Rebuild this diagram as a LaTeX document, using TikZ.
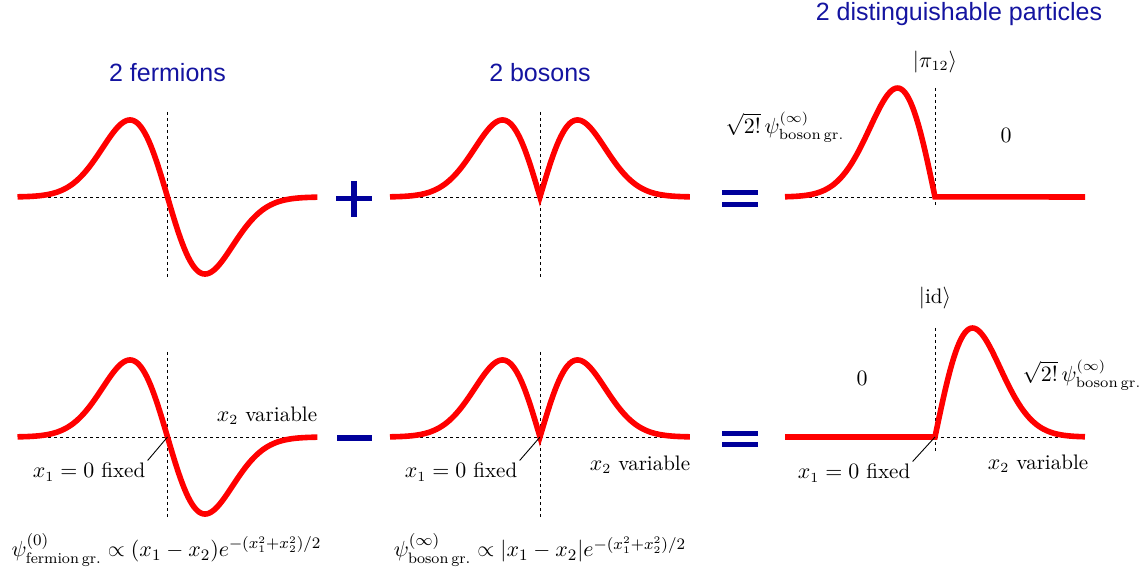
\documentclass[tikz,border=0pt]{standalone}
\usepackage{amsmath}
\usepackage{fontspec}
\newfontfamily\titlefont{Liberation Sans}
\usepackage{tikz}
\usetikzlibrary{positioning}
\definecolor{titleBlue}{HTML}{1414A0}
\definecolor{opBlue}{HTML}{00009B}
\tikzset{
  wave/.style={red, line width=2.8pt},
  axis/.style={line width=0.45pt, dash pattern=on 1.5pt off 1.5pt},
  lead/.style={line width=0.45pt},
  ttl/.style={font=\titlefont\fontsize{12.5}{15}\selectfont, text=titleBlue},
  lbl/.style={font=\fontsize{10.5}{12.6}\selectfont, inner sep=1pt},
  gs/.style={font=\fontsize{10.8}{13}\selectfont, inner sep=1pt},
  opsym/.style={opBlue, line width=2.6pt},
}

\begin{document}
\begin{tikzpicture}[x=0.5pt, y=-0.5pt]
% pixel grid of the reference, y pointing down
\useasboundingbox (0,0) rectangle (1146,581);
\def\amp{127}
\def\ux{37.5}

% origins x1 = 0 of the six panels
\coordinate (fermTop) at (167.5,197);
\coordinate (bosTop) at (540,197);
\coordinate (distTop) at (935,197);
\coordinate (fermBot) at (167.5,437);
\coordinate (bosBot) at (540,437);
\coordinate (distBot) at (935,437);

% titles
\node[ttl] (tFerm) at (167.5,73) {2 fermions};
\node[ttl] (tBos) at (540,73) {2 bosons};
\node[ttl, anchor=base] (tDist) at (959,21) {2 distinguishable particles};

% fermion and boson panels, both rows
\foreach \dy in {0,240} {
  \draw[axis] (18,197+\dy) -- (318,197+\dy);
  \draw[axis] (167.5,112+\dy) -- (167.5,278+\dy);
  \draw[axis] (390,197+\dy) -- (690,197+\dy);
  \draw[axis] (540,112+\dy) -- (540,278+\dy);
  \draw[wave] plot[domain=-4:4, samples=161]
    ({167.5+\ux*(\x)}, {197+\dy+\amp*(\x)*exp(-0.5*(\x)*(\x))});
  \draw[wave] plot[domain=-4:4, samples=161]
    ({540+\ux*(\x)}, {197+\dy-\amp*abs(\x)*exp(-0.5*(\x)*(\x))});
}

% distinguishable: |pi12>
\draw[axis] (785,197) -- (1085,197);
\draw[axis] (935,88) -- (935,208);
\draw[wave] plot[domain=-4:0, samples=81]
  ({935+\ux*(\x)}, {197-1.4142*\amp*abs(\x)*exp(-0.5*(\x)*(\x))}) -- (1085,197);

% distinguishable: |id>
\draw[axis] (785,437) -- (1085,437);
\draw[axis] (935,328) -- (935,452);
\draw[wave] (785,437) -- plot[domain=0:4, samples=81]
  ({935+\ux*(\x)}, {437-1.4142*\amp*abs(\x)*exp(-0.5*(\x)*(\x))});

% + - = =
\draw[opsym] (336,198.5) -- (372,198.5) (354,181) -- (354,217);
\draw[opsym] (337,438) -- (372,438);
\draw[opsym] (722,192.3) -- (758,192.3) (722,204.3) -- (758,204.3);
\draw[opsym] (722,433.3) -- (758,433.3) (722,444.3) -- (758,444.3);

% labels right column
\node[lbl] (kPi) at (935,62) {$|\pi_{12}\rangle$};
\node[lbl] (kId) at (935,298) {$|\mathrm{id}\rangle$};
\node[lbl] (bgTop) at (785,127) {$\sqrt{2!}\,\psi^{(\infty)}_{\mathrm{boson\,gr.}}$};
\node[lbl] (bgBot) at (1082,375) {$\sqrt{2!}\,\psi^{(\infty)}_{\mathrm{boson\,gr.}}$};
\node[lbl] (zTop) at (1006,135) {$0$};
\node[lbl] (zBot) at (862,378) {$0$};

% x1 / x2 labels
\node[lbl] (varF) at (267,416) {$x_2$ variable};
\node[lbl] (varB) at (640,465) {$x_2$ variable};
\node[lbl] (varD) at (1038,464) {$x_2$ variable};
\node[lbl] (fixF) at (89,472) {$x_1=0$ fixed};
\node[lbl] (fixB) at (461,472) {$x_1=0$ fixed};
\node[lbl] (fixD) at (854,473) {$x_1=0$ fixed};
\draw[lead] (fixF.north east) -- (fermBot);
\draw[lead] (fixB.north east) -- (bosBot);
\draw[lead] (fixD.north east) -- (distBot);

% ground states
\node[gs] (gsF) at (166.5,550)
  {$\psi^{(0)}_{\mathrm{fermion\,gr.}}\propto(x_1-x_2)e^{-(x_1^2+x_2^2)/2}$};
\node[gs] (gsB) at (540,550)
  {$\psi^{(\infty)}_{\mathrm{boson\,gr.}}\propto|x_1-x_2|e^{-(x_1^2+x_2^2)/2}$};
\end{tikzpicture}
\end{document}
